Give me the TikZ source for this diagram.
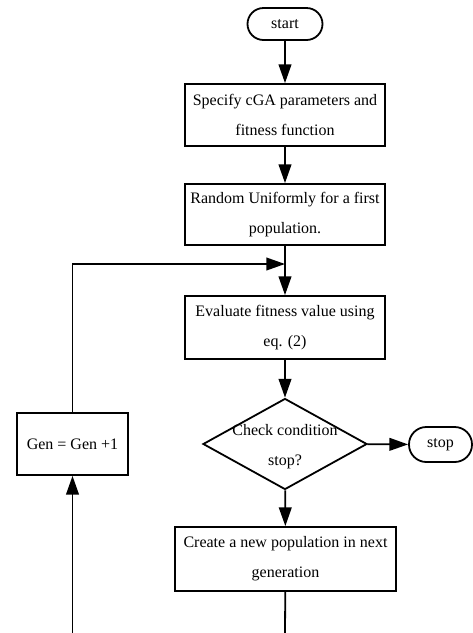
\documentclass[tikz,border=0pt]{standalone}
\usepackage{fontspec}
\setmainfont{Liberation Serif}
\usetikzlibrary{arrows.meta,shapes.geometric}
\begin{document}
\begin{tikzpicture}[x=0.75pt,y=-0.75pt,
  every node/.style={font=\fontsize{12}{22.5}\selectfont, inner sep=0pt},
  box/.style={draw, line width=1.35pt, align=center},
  pill/.style={draw, line width=1.35pt, rounded corners=12pt, align=center},
  arr/.style={-{Triangle[length=14pt,width=9.5pt]}, line width=1.35pt},
  ln/.style={line width=1.35pt}]
\useasboundingbox (0,0) rectangle (473,633);
\node[pill, minimum width=56.25pt, minimum height=24pt] (start) at (285,24) {start};
\node[box, minimum width=150pt, minimum height=46.5pt] (b1) at (285,115) {Specify cGA parameters and\\fitness function};
\node[box, minimum width=150pt, minimum height=45.75pt] (b2) at (285,214.5) {Random Uniformly for a first\\population.};
\node[box, minimum width=150pt, minimum height=47.25pt] (b3) at (285,327.5) {Evaluate fitness value using\\eq. (2)};
\node[diamond, draw, line width=1.35pt, minimum width=123pt, minimum height=68.25pt] (d) at (285,444) {};
\node[align=center] (dt) at (285,447) {Check condition\\stop?};
\node[pill, minimum width=47.25pt, minimum height=26.25pt, rounded corners=13pt] (stop) at (440.5,444.5) {stop};
\node[box, minimum width=165.75pt, minimum height=48pt] (b4) at (285.5,559) {Create a new population in next\\generation};
\node[box, minimum width=83.25pt, minimum height=46.5pt] (gen) at (72.5,444) {Gen = Gen +1};
\coordinate (m) at (285,264);
\coordinate (e1) at (285,633);
\coordinate (e2) at (72.5,633);
\draw[arr] (start) -- (b1);
\draw[arr] (b1) -- (b2);
\draw[arr] (b2) -- (b3);
\draw[arr] (gen.north) |- (m);
\draw[arr] (b3) -- (d);
\draw[arr] (d) -- (stop);
\draw[arr] (d) -- (b4);
\draw[ln] (b4) -- (e1);
\draw[arr] (e2) -- (gen);
\end{tikzpicture}
\end{document}
